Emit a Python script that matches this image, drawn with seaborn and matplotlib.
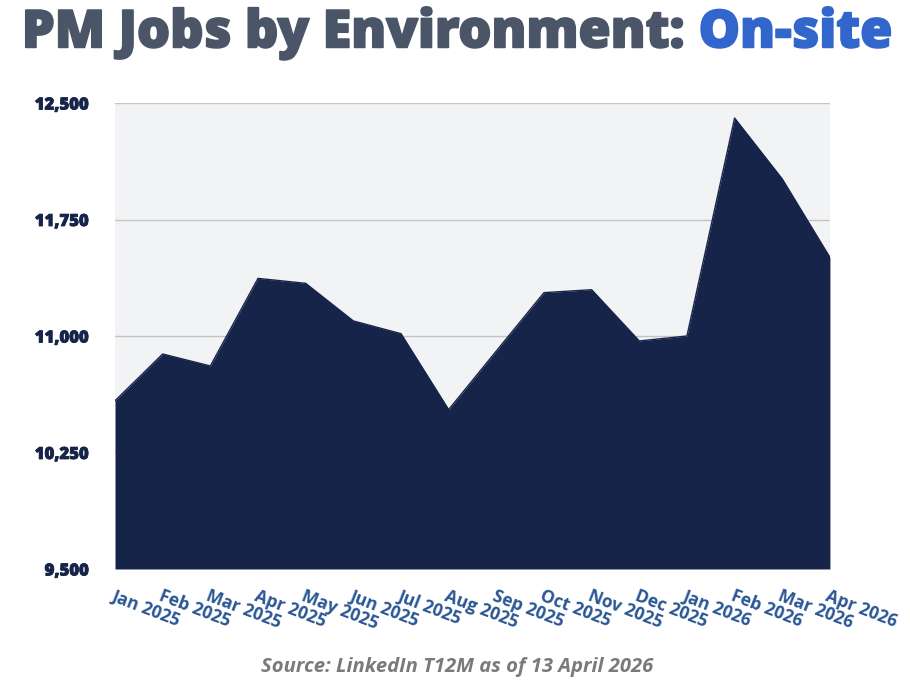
import matplotlib
matplotlib.use("Agg")
import matplotlib.pyplot as plt
import matplotlib.patheffects as pe
import seaborn as sns
import pandas as pd
from matplotlib.ticker import FuncFormatter

months = ["Jan 2025", "Feb 2025", "Mar 2025", "Apr 2025", "May 2025", "Jun 2025",
          "Jul 2025", "Aug 2025", "Sep 2025", "Oct 2025", "Nov 2025", "Dec 2025",
          "Jan 2026", "Feb 2026", "Mar 2026", "Apr 2026"]
jobs = [10583, 10884, 10807, 11371, 11339, 11097, 11015, 10526,
        10903, 11279, 11298, 10968, 11000, 12403, 12011, 11506]
y_ticks = [9500, 10250, 11000, 11750, 12500]

NAVY = "#16244a"
BLUE = "#3366cc"
SLATE = "#4a5568"
TICKBLUE = "#2a5694"

sns.set_style("white")
plt.rcParams["font.family"] = ["Open Sans", "DejaVu Sans"]

df = pd.DataFrame({"month": months, "jobs": jobs, "pos": range(len(months))})

fig = plt.figure(figsize=(9.1, 6.96), dpi=100)
ax = fig.add_axes([0.1264, 0.1825, 0.912 - 0.1264, 0.852 - 0.1825])
ax.set_facecolor("#f2f3f5")

ax.fill_between(df["pos"], df["jobs"], 9500, color=NAVY, lw=0, zorder=2)
sns.lineplot(data=df, x="pos", y="jobs", ax=ax, color=NAVY, lw=1, zorder=3)

ax.set_xlim(0, len(months) - 1)
ax.set_ylim(9500, 12500)
ax.set_yticks(y_ticks)
ax.yaxis.set_major_formatter(FuncFormatter(lambda v, p: f"{int(v):,}"))
ax.grid(axis="y", color="#c4c4c4", lw=1, zorder=1)
ax.set_axisbelow(True)
for s in ax.spines.values():
    s.set_visible(False)
ax.set_xlabel("")
ax.set_ylabel("")

ax.set_xticks(df["pos"])
ax.set_xticklabels(months)
ax.tick_params(axis="both", length=0)
ax.tick_params(axis="y", pad=19)
ax.tick_params(axis="x", pad=13)
for lab in ax.get_yticklabels():
    lab.set_fontsize(12)
    lab.set_fontweight(800)
    lab.set_color(NAVY)
    lab.set_path_effects([pe.withStroke(linewidth=0.6, foreground=NAVY)])
for lab in ax.get_xticklabels():
    lab.set_fontsize(12.5)
    lab.set_fontweight("bold")
    lab.set_color(TICKBLUE)
    lab.set_rotation(-21)
    lab.set_ha("left")
    lab.set_va("top")
    lab.set_rotation_mode("anchor")

stroke_t = [pe.withStroke(linewidth=1.3, foreground=SLATE)]
t1 = fig.text(0.024, 0.932, "PM Jobs by Environment: ", fontsize=37.5,
              fontweight=800, color=SLATE, va="baseline", ha="left",
              path_effects=stroke_t)
fig.canvas.draw()
bb = t1.get_window_extent()
x2 = bb.x1 / fig.bbox.width
fig.text(x2, 0.932, "On-site", fontsize=37.5, fontweight=800,
         color=BLUE, va="baseline", ha="left",
         path_effects=[pe.withStroke(linewidth=1.3, foreground=BLUE)])

fig.text(0.502, 0.035, "Source: LinkedIn T12M as of 13 April 2026", fontsize=14.6,
         fontweight="bold", fontstyle="italic", color="#7a7a7a", ha="center",
         va="baseline")

fig.savefig("out.png", dpi=100)
